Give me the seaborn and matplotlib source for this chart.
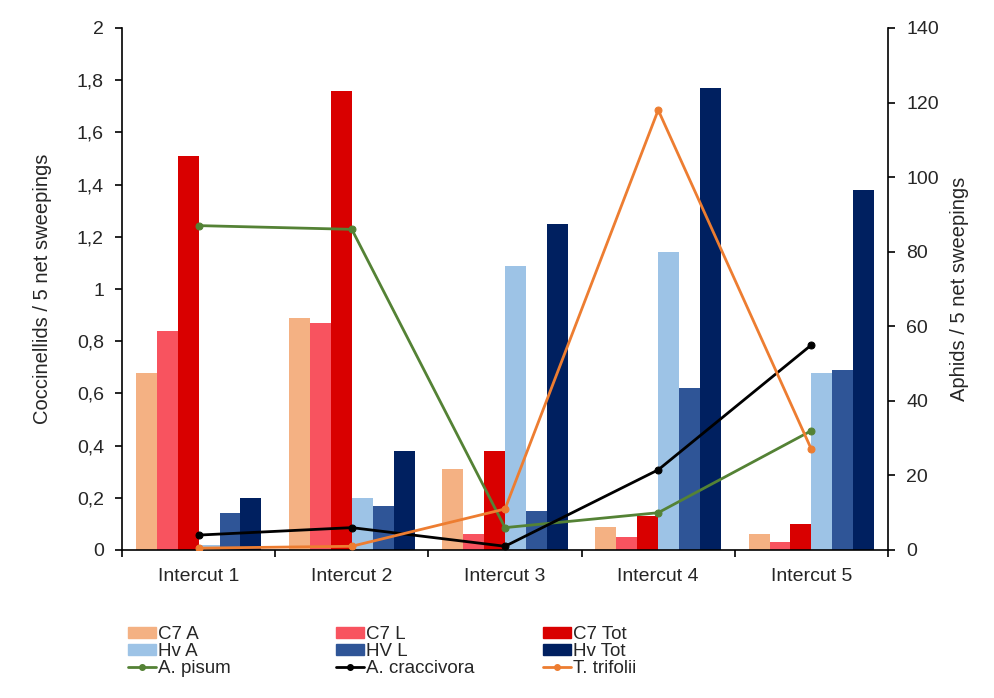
import numpy as np
import pandas as pd
import seaborn as sns
import matplotlib.pyplot as plt
from matplotlib.lines import Line2D
from matplotlib.patches import Patch

# data
intercuts = ['Intercut 1', 'Intercut 2', 'Intercut 3', 'Intercut 4', 'Intercut 5']
bar_names = ['C7 A', 'C7 L', 'C7 Tot', 'Hv A', 'HV L', 'Hv Tot']
c7_a = [0.68, 0.89, 0.31, 0.09, 0.06]
c7_l = [0.84, 0.87, 0.06, 0.05, 0.03]
c7_tot = [1.51, 1.76, 0.38, 0.13, 0.10]
hv_a = [0.02, 0.20, 1.09, 1.14, 0.68]
hv_l = [0.14, 0.17, 0.15, 0.62, 0.69]
hv_tot = [0.20, 0.38, 1.25, 1.77, 1.38]

line_names = ['A. pisum', 'A. craccivora', 'T. trifolii']
a_pisum = [87, 86, 6, 10, 32]
a_craccivora = [4, 6, 1, 21.5, 55]
t_trifolii = [0.5, 1, 11, 118, 27]

bar_colors = ['#F4B183', '#F8535F', '#D90000', '#9DC3E6', '#2F5597', '#002060']
line_colors = ['#548235', '#000000', '#ED7D31']

sns.set_style('white')
plt.rcParams['font.family'] = ['Liberation Sans', 'DejaVu Sans']
fs = 14

bars = pd.DataFrame({'Intercut': intercuts * 6,
                     'Series': np.repeat(bar_names, 5),
                     'Value': c7_a + c7_l + c7_tot + hv_a + hv_l + hv_tot})
lines = pd.DataFrame({'x': list(range(5)) * 3,
                      'Series': np.repeat(line_names, 5),
                      'Value': a_pisum + a_craccivora + t_trifolii})

fig = plt.figure(figsize=(9.95, 6.98), dpi=100)
ax = fig.add_axes([122 / 995, 1 - 550 / 698, (888 - 122) / 995, (550 - 28) / 698])

sns.barplot(data=bars, x='Intercut', y='Value', hue='Series', hue_order=bar_names,
            palette=bar_colors, width=0.82, saturation=1, errorbar=None,
            linewidth=0, edgecolor='none', legend=False, ax=ax)
ax.set_xlim(-0.5, 4.5)
ax.set_ylim(0, 2)
ax.set_yticks(np.arange(0, 2.01, 0.2))
ax.set_yticklabels([('%g' % v).replace('.', ',') for v in np.arange(0, 2.01, 0.2)])
ax.set_xlabel('')
ax.set_ylabel('Coccinellids / 5 net sweepings', fontsize=fs + 0.5, labelpad=18)
ax.set_xticks(np.arange(-0.5, 5, 1), minor=True)
ax.tick_params(axis='x', which='major', length=0, labelsize=fs, pad=13)
ax.tick_params(axis='x', which='minor', length=5, width=1.2, color='black', direction='out')
ax.tick_params(axis='y', length=5, width=1.2, color='black', direction='out', labelsize=fs, pad=8)
ax.yaxis.set_ticks_position('left')
ax.xaxis.set_ticks_position('bottom')

ax2 = ax.twinx()
for name, col in zip(line_names, line_colors):
    sns.lineplot(data=lines[lines['Series'] == name], x='x', y='Value', color=col,
                 marker='o', markersize=5, markeredgecolor=col, linewidth=2,
                 ax=ax2, legend=False)
ax2.set_ylim(0, 140)
ax2.set_yticks(range(0, 141, 20))
ax2.set_ylabel('Aphids / 5 net sweepings', fontsize=fs + 0.5, labelpad=8)
ax2.tick_params(axis='y', length=5, width=1.2, color='black', direction='out', labelsize=fs, pad=8)
ax2.set_xlim(-0.5, 4.5)

for a in (ax, ax2):
    a.spines['top'].set_visible(False)
    for s in ['left', 'right', 'bottom']:
        a.spines[s].set_color('black')
        a.spines[s].set_linewidth(1.2)
ax.spines['right'].set_visible(False)
ax2.spines['left'].set_visible(False)
ax2.spines['bottom'].set_visible(False)

bar_h = [Patch(color=c, label=n) for n, c in zip(bar_names, bar_colors)]
line_h = [Line2D([], [], color=c, marker='o', markersize=4, linewidth=2, label=n)
          for n, c in zip(line_names, line_colors)]
columns = [[bar_h[0], bar_h[3], line_h[0]],
           [bar_h[1], bar_h[4], line_h[1]],
           [bar_h[2], bar_h[5], line_h[2]]]
for x0, handles in zip([128, 336, 543], columns):
    fig.legend(handles=handles, loc='upper left', bbox_to_anchor=(x0 / 995, 1 - 626 / 698),
               frameon=False, fontsize=13.5, handlelength=1.5, handleheight=0.55,
               handletextpad=0.12, labelspacing=0.01, borderaxespad=0, borderpad=0)

fig.savefig('out.png', dpi=100)
